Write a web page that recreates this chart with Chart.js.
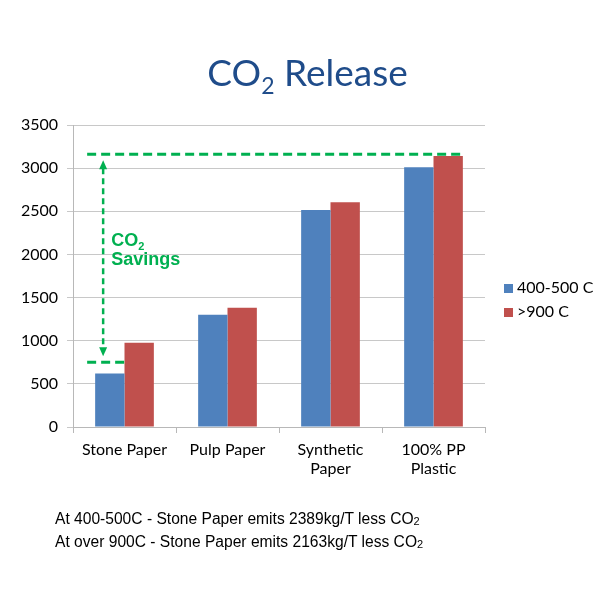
<!DOCTYPE html>
<html>
<head>
<meta charset="utf-8">
<script src="https://cdn.jsdelivr.net/npm/chart.js@4.4.1/dist/chart.umd.min.js"></script>
<style>
  html, body { margin:0; padding:0; background:#fff; }
  #wrap { position:relative; width:600px; height:600px; overflow:hidden; }
  #c { position:absolute; left:0; top:0; }
  #title { position:absolute; left:0; width:615px; top:50px; text-align:center;
    font-family:Lato, "Open Sans", sans-serif; font-size:37px; color:#1F4C8A; line-height:44px; }
  #title sub { font-size:23px; vertical-align:-8px; line-height:0; }
  #legend { position:absolute; left:504px; top:277px; font-family:Lato, sans-serif; font-size:16px; color:#000; }
  #legend div { height:24px; line-height:20px; white-space:nowrap; }
  #legend span.sw { display:inline-block; width:9px; height:9px; margin-right:4px; vertical-align:0px; }
  #notes { position:absolute; left:55px; top:507px; font-family:"Liberation Sans", Arial, sans-serif; font-size:15.6px; color:#000; line-height:23px; }
  #notes div { height:23px; }
  #notes sub { font-size:11px; vertical-align:-1px; line-height:0; }
</style>
</head>
<body>
<div id="wrap">
  <canvas id="c" width="600" height="600"></canvas>
  <div id="title">CO<sub>2</sub> Release</div>
  <div id="legend"></div>
  <div id="notes">
    <div>At 400-500C - Stone Paper emits 2389kg/T less CO<sub>2</sub></div>
    <div>At over 900C - Stone Paper emits 2163kg/T less CO<sub>2</sub></div>
  </div>
</div>
<script>
const categories = ["Stone Paper", "Pulp Paper", ["Synthetic", "Paper"], ["100% PP", "Plastic"]];
const seriesNames = ["400-500 C", ">900 C"];
const series400 = [620, 1301, 2514, 3009];
const series900 = [977, 1383, 2604, 3140];
const yTicks = [0, 500, 1000, 1500, 2000, 2500, 3000, 3500];
const savingsTop = 3160;
const savingsBottom = 750;

const colors = ["#4F81BD", "#C0504D"];
const green = "#00B050";

const legendEl = document.getElementById('legend');
seriesNames.forEach((n, i) => {
  const d = document.createElement('div');
  d.innerHTML = '<span class="sw" style="background:' + colors[i] + '"></span>' + n;
  legendEl.appendChild(d);
});

const savingsPlugin = {
  id: 'savings',
  afterDatasetsDraw(chart) {
    const ctx = chart.ctx;
    const y = chart.scales.y;
    const m0 = chart.getDatasetMeta(0).data;
    const m1 = chart.getDatasetMeta(1).data;
    const startX = m0[0].x - m0[0].width / 2 - 8;
    const endX = m1[3].x + m1[3].width / 2;
    const lowEnd = m1[0].x - m1[0].width / 2;
    const yTop = y.getPixelForValue(savingsTop);
    const yBot = y.getPixelForValue(savingsBottom);
    const ax = startX + 16;
    ctx.save();
    ctx.strokeStyle = green;
    ctx.fillStyle = green;
    ctx.lineWidth = 3;
    ctx.setLineDash([9, 5]);
    ctx.beginPath();
    ctx.moveTo(startX, yTop); ctx.lineTo(endX, yTop);
    ctx.moveTo(startX, yBot); ctx.lineTo(lowEnd, yBot);
    ctx.stroke();
    ctx.lineWidth = 2.5;
    ctx.setLineDash([6, 4]);
    ctx.beginPath();
    ctx.moveTo(ax, yTop + 14); ctx.lineTo(ax, yBot - 14);
    ctx.stroke();
    ctx.setLineDash([]);
    ctx.beginPath();
    ctx.moveTo(ax, yTop + 6); ctx.lineTo(ax - 4, yTop + 15); ctx.lineTo(ax + 4, yTop + 15); ctx.closePath();
    ctx.fill();
    ctx.beginPath();
    ctx.moveTo(ax, yBot - 6); ctx.lineTo(ax - 4, yBot - 15); ctx.lineTo(ax + 4, yBot - 15); ctx.closePath();
    ctx.fill();
    ctx.font = 'bold 18px "Liberation Sans", Arial, sans-serif';
    ctx.textBaseline = 'alphabetic';
    ctx.textAlign = 'left';
    const lx = ax + 8;
    const ly = y.getPixelForValue(1880);
    ctx.fillText('CO', lx, ly - 19);
    const w = ctx.measureText('CO').width;
    ctx.font = 'bold 11px "Liberation Sans", Arial, sans-serif';
    ctx.fillText('2', lx + w, ly - 15);
    ctx.font = 'bold 18px "Liberation Sans", Arial, sans-serif';
    ctx.fillText('Savings', lx, ly);
    ctx.restore();
  }
};

new Chart(document.getElementById('c'), {
  type: 'bar',
  data: {
    labels: categories,
    datasets: [
      { label: seriesNames[0], data: series400, backgroundColor: colors[0] },
      { label: seriesNames[1], data: series900, backgroundColor: colors[1] }
    ]
  },
  options: {
    responsive: false,
    animation: false,
    devicePixelRatio: 1,
    layout: { padding: { left: 0, top: 125, right: 115, bottom: 0 } },
    datasets: { bar: { categoryPercentage: 0.57, barPercentage: 1.0 } },
    plugins: { legend: { display: false }, title: { display: false }, tooltip: { enabled: false } },
    scales: {
      x: {
        grid: { offset: true, drawOnChartArea: false, drawTicks: true, tickLength: 6, color: '#B8B8B8' },
        border: { color: '#B8B8B8' },
        ticks: { color: '#000', font: { family: 'Lato, sans-serif', size: 16, lineHeight: 1.2 }, padding: 7, maxRotation: 0, autoSkip: false },
        afterFit(s) { s.height = 173; }
      },
      y: {
        min: 0, max: 3500,
        afterBuildTicks(s) { s.ticks = yTicks.map(v => ({ value: v })); },
        grid: { color: '#C8C8C8', tickLength: 6 },
        border: { color: '#B8B8B8' },
        ticks: { color: '#000', font: { family: 'Lato, sans-serif', size: 16 }, padding: 9, callback: v => String(v) },
        afterFit(s) { s.width = 73; }
      }
    }
  },
  plugins: [savingsPlugin]
});
</script>
</body>
</html>
